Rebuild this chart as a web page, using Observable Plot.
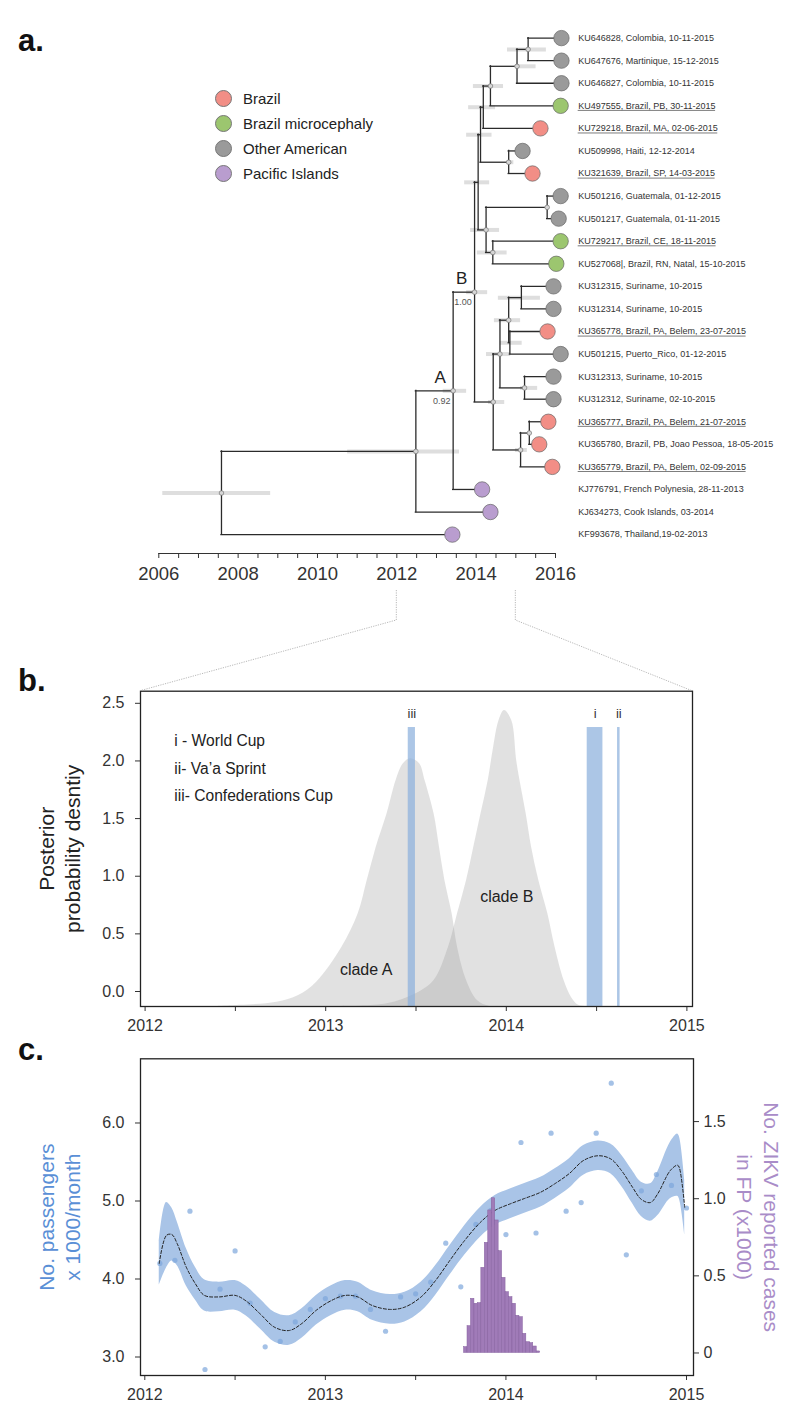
<!DOCTYPE html>
<html><head><meta charset="utf-8">
<script src="https://cdn.jsdelivr.net/npm/d3@7"></script>
<script src="https://cdn.jsdelivr.net/npm/@observablehq/plot@0.6"></script>
<style>
body{margin:0;background:#fff;}
#wrap{position:relative;width:800px;height:1427px;overflow:hidden;font-family:"Liberation Sans",Arial,Helvetica,sans-serif;background:#fff;}
.panel{position:absolute;left:0;}
.tag{position:absolute;left:18px;font-weight:bold;font-size:31px;color:#111;line-height:1;}
.legend{position:absolute;left:215px;top:85.4px;font-size:15px;color:#222;}
.legend div{height:25.3px;display:flex;align-items:center;}
.legend span.c{display:inline-block;width:15px;height:15px;border-radius:50%;border:1px solid #777;margin-right:11px;}
</style></head><body><div id="wrap"></div>
<script>
const FONT = '"Liberation Sans", Arial, Helvetica, sans-serif';

// ---------------- Panel a: tree ----------------
const groupNames = ["Brazil", "Brazil microcephaly", "Other American", "Pacific Islands"];
const groupColors = ["#f28e86", "#9cc66f", "#9a9a9a", "#b99dcf"];

const tipLabels = [
  "KU646828, Colombia, 10-11-2015",
  "KU647676, Martinique, 15-12-2015",
  "KU646827, Colombia, 10-11-2015",
  "KU497555, Brazil, PB, 30-11-2015",
  "KU729218, Brazil, MA, 02-06-2015",
  "KU509998, Haiti, 12-12-2014",
  "KU321639, Brazil, SP, 14-03-2015",
  "KU501216, Guatemala, 01-12-2015",
  "KU501217, Guatemala, 01-11-2015",
  "KU729217, Brazil, CE, 18-11-2015",
  "KU527068|, Brazil, RN, Natal, 15-10-2015",
  "KU312315, Suriname, 10-2015",
  "KU312314, Suriname, 10-2015",
  "KU365778, Brazil, PA, Belem, 23-07-2015",
  "KU501215, Puerto_Rico, 01-12-2015",
  "KU312313, Suriname, 10-2015",
  "KU312312, Suriname, 02-10-2015",
  "KU365777, Brazil, PA, Belem, 21-07-2015",
  "KU365780, Brazil, PB, Joao Pessoa, 18-05-2015",
  "KU365779, Brazil, PA, Belem, 02-09-2015",
  "KJ776791, French Polynesia, 28-11-2013",
  "KJ634273, Cook Islands, 03-2014",
  "KF993678, Thailand,19-02-2013"
];
const tipGroups = [
  "Other American","Other American","Other American","Brazil microcephaly","Brazil",
  "Other American","Brazil","Other American","Other American","Brazil microcephaly",
  "Brazil microcephaly","Other American","Other American","Brazil","Other American",
  "Other American","Other American","Brazil","Brazil","Brazil",
  "Pacific Islands","Pacific Islands","Pacific Islands"
];
const tipUnderlined = [0,0,0,1,1,0,1,0,0,1,0,0,0,1,0,0,0,1,0,1,0,0,0];
const tipTimes = [2016.15,2016.15,2016.15,2016.13,2015.62,2015.17,2015.42,2016.13,2016.08,2016.13,2016.02,
  2015.95,2015.95,2015.80,2016.13,2015.95,2015.95,2015.82,2015.59,2015.92,2014.15,2014.36,2013.40];
const tipParents = ["X1","X1","X2","X3","X4","X6","X6","X9","X9","X10","X10","L1a1","L1a1","L1a2","L1a2",
  "L1b","L1b","L2a","L2a","L2","A","N1","R"];

const nodeIds =     ["R","N1","A","B","X7","X5","X4","X3","X2","X1","X6","X8","X9","X10","L","L1","L1a","L1a1","L1a2","L1b","L2","L2a"];
const nodeParents = [null,"R","N1","A","B","X7","X5","X4","X3","X2","X5","X7","X8","X8","B","L","L1","L1a","L1a","L1","L","L2"];
const nodeTimes =   [2007.58,2012.48,2013.42,2013.96,2014.05,2014.11,2014.18,2014.36,2015.03,2015.31,2014.82,2014.25,2015.79,2014.42,2014.43,2014.60,2014.82,2015.14,2014.85,2015.22,2015.12,2015.34];
const nodeHpdLo =   [2006.10,2010.76,2013.17,2013.76,2013.71,2013.76,2013.81,2013.93,2014.99,2014.79,2014.77,2013.86,null,2014.03,2014.31,2014.26,2014.46,2014.56,2014.61,2015.12,2014.99,null];
const nodeHpdHi =   [2008.82,2013.58,2013.76,2014.29,2014.34,2014.40,2014.49,2014.69,2015.51,2015.77,2014.95,2014.59,null,2014.78,2014.72,2014.87,2015.12,2015.62,2015.16,2015.55,2015.29,null];
const nodeMarked =  [1,1,1,1,0,0,0,1,1,1,1,1,1,1,1,1,1,0,0,1,1,1];
const cladeNames = ["A","B"];
const cladeSupport = ["0.92","1.00"];
const treeTicks = d3.range(2006, 2016.001, 0.5);

// ---------------- Panel b: densities ----------------
const cladeATimes = [2012.40,2012.53,2012.73,2012.85,2012.95,2013.09,2013.18,2013.23,2013.28,2013.34,2013.39,2013.43,2013.47,2013.52,2013.55,2013.60,2013.63,2013.66,2013.70,2013.73,2013.78,2013.84,2013.91,2014.00];
const cladeADens  = [-0.13,-0.12,-0.093,-0.035,0.081,0.384,0.674,0.963,1.252,1.541,1.830,1.975,2.018,1.975,1.830,1.541,1.252,0.963,0.674,0.384,0.095,-0.078,-0.13,-0.13];
const cladeBTimes = [2013.05,2013.34,2013.50,2013.60,2013.68,2013.73,2013.78,2013.82,2013.86,2013.90,2013.93,2013.96,2013.99,2014.03,2014.06,2014.11,2014.14,2014.18,2014.23,2014.27,2014.32,2014.36,2014.40,2014.44];
const cladeBDens  = [-0.13,-0.107,-0.020,0.095,0.384,0.674,0.963,1.252,1.541,1.830,2.119,2.350,2.437,2.350,1.975,1.541,1.252,0.963,0.674,0.384,0.095,-0.049,-0.12,-0.13];
const eventLabels = ["iii","i","ii"];
const eventStart  = [2013.457, 2014.448, 2014.616];
const eventEnd    = [2013.497, 2014.535, 2014.630];
const eventLegend = ["i - World Cup", "ii- Va\u2019a Sprint", "iii- Confederations Cup"];
const densTicks = [0, 0.5, 1, 1.5, 2, 2.5];

// ---------------- Panel c: passengers & cases ----------------
const curveTimes = [2012.08,2012.12,2012.15,2012.18,2012.23,2012.28,2012.33,2012.41,2012.50,2012.56,2012.64,2012.72,2012.80,2012.87,2012.95,2013.03,2013.11,2013.18,2013.26,2013.36,2013.44,2013.53,2013.61,2013.69,2013.77,2013.86,2013.94,2014.02,2014.10,2014.19,2014.27,2014.35,2014.43,2014.51,2014.58,2014.64,2014.70,2014.75,2014.80,2014.84,2014.91,2014.95,2014.96,2014.99];
const curveMid   = [4.20,4.56,4.57,4.45,4.15,3.94,3.79,3.77,3.79,3.72,3.55,3.38,3.34,3.43,3.60,3.72,3.79,3.77,3.66,3.61,3.64,3.77,3.98,4.24,4.49,4.73,4.88,4.96,5.03,5.11,5.22,5.35,5.52,5.58,5.54,5.39,5.18,5.02,4.98,5.09,5.39,5.46,5.43,4.92];
const curveHalf  = [0.28,0.42,0.34,0.28,0.24,0.21,0.20,0.19,0.19,0.19,0.19,0.19,0.19,0.19,0.19,0.19,0.19,0.19,0.19,0.19,0.19,0.19,0.19,0.19,0.19,0.19,0.19,0.19,0.19,0.19,0.19,0.19,0.19,0.19,0.19,0.20,0.21,0.22,0.24,0.28,0.36,0.40,0.40,0.35];
const passengerMonthly = [4.20,4.24,4.87,2.84,3.87,4.36,3.69,3.13,3.20,3.45,3.61,3.75,3.78,3.78,3.61,3.33,3.77,3.81,3.96,4.46,3.90,4.70,4.88,4.57,5.75,4.59,5.87,4.87,4.98,5.87,6.51,4.31,5.13,5.34,5.20,4.91];
const passengerStartYear = 2012; // first month = Feb 2012
const casesWeekly = [0.038,0.174,0.351,0.319,0.323,0.552,0.714,0.924,1.003,0.859,0.660,0.487,0.394,0.362,0.319,0.241,0.232,0.124,0.070,0.064,0.042,0.010];
const casesStart = 2013.768;
const weekYears = 7 / 365.25;
const passengerTicks = [3, 4, 5, 6];
const caseTicks = [0, 0.5, 1, 1.5];
const yearTicks = d3.range(2012, 2015.001, 0.5);

// ---------------- build tree ----------------
const nodes = new Map();
nodeIds.forEach((id, i) => nodes.set(id, {id, t: nodeTimes[i], parent: nodeParents[i], lo: nodeHpdLo[i], hi: nodeHpdHi[i], marked: nodeMarked[i], children: [], tip: false}));
const tips = tipLabels.map((label, i) => ({id: "tip" + i, label, group: tipGroups[i], underlined: !!tipUnderlined[i], t: tipTimes[i], parent: tipParents[i], y: i, tip: true, children: []}));
tips.forEach(d => nodes.set(d.id, d));
for (const n of nodes.values()) if (n.parent) nodes.get(n.parent).children.push(n);
function layY(n) { if (n.tip) return n.y; n.y = d3.mean(n.children, layY); return n.y; }
layY(nodes.get("R"));
const allNodes = [...nodes.values()];
const internal = allNodes.filter(n => !n.tip);
const hEdges = allNodes.filter(n => n.parent).map(n => ({y: n.y, x1: nodes.get(n.parent).t, x2: n.t}));
const vEdges = internal.map(n => ({x: n.t, y1: d3.min(n.children, c => c.y), y2: d3.max(n.children, c => c.y)}));
const cladeNodes = cladeNames.map((c, i) => ({name: c, support: cladeSupport[i], t: nodes.get(c).t, y: nodes.get(c).y}));

const wrap = document.getElementById("wrap");
function place(el, top) { const d = document.createElement("div"); d.className = "panel"; d.style.top = top + "px"; d.appendChild(el); wrap.appendChild(d); return el; }

// underline extents measured in pixels, converted to years through the tree x scale
const treeXDomain = [2006, 2016], treeXRange = [158.3, 555];
const pxPerYear = (treeXRange[1] - treeXRange[0]) / (treeXDomain[1] - treeXDomain[0]);
const labelX = 2016.572;
const ctx = document.createElement("canvas").getContext("2d");
ctx.font = '9px "Liberation Sans", Arial, sans-serif';
const underlines = tips.filter(d => d.underlined).map(d => ({y: d.y, x1: labelX, x2: labelX + ctx.measureText(d.label).width / pxPerYear}));

const chartA = Plot.plot({
  width: 800, height: 600, marginTop: 0, marginBottom: 47, marginLeft: 158.3, marginRight: 245,
  style: {fontFamily: FONT, fontSize: "18.5px", color: "#333", background: "transparent"},
  x: {domain: treeXDomain, range: treeXRange, ticks: treeTicks, tickFormat: d => d % 2 === 0 ? String(d) : "", tickSize: 5, tickPadding: 8, line: true, label: null},
  y: {domain: [0, 22], range: [37.6, 534.1], axis: null},
  color: {domain: groupNames, range: groupColors},
  marks: [
    Plot.ruleY(internal.filter(n => n.lo != null), {y: "y", x1: "lo", x2: "hi", stroke: "#dedede", strokeWidth: 4}),
    Plot.ruleY(hEdges, {y: "y", x1: "x1", x2: "x2", stroke: "#2b2b2b", strokeWidth: 1.3, strokeLinecap: "square"}),
    Plot.ruleX(vEdges, {x: "x", y1: "y1", y2: "y2", stroke: "#2b2b2b", strokeWidth: 1.3, strokeLinecap: "square"}),
    Plot.dot(internal.filter(n => n.marked), {x: "t", y: "y", r: 2.3, fill: "#d6d6d6", stroke: "#777", strokeWidth: 0.7}),
    Plot.dot(tips, {x: "t", y: "y", r: 7.7, fill: "group", stroke: "#666", strokeWidth: 0.7}),
    Plot.text(tips, {x: labelX, y: "y", text: "label", textAnchor: "start", fontSize: 9, fill: "#333"}),
    Plot.ruleY(underlines, {y: "y", x1: "x1", x2: "x2", dy: 4.6, stroke: "#444", strokeWidth: 0.7}),
    Plot.text(cladeNodes, {x: "t", y: "y", text: "name", dx: -13, dy: -13.5, fontSize: 17, fill: "#222"}),
    Plot.text(cladeNodes, {x: "t", y: "y", text: "support", dx: -11.5, dy: 10, fontSize: 9, fill: "#555"})
  ]
});
place(chartA, 0);

// legend
const leg = document.createElement("div");
leg.className = "legend";
groupNames.forEach((g, i) => {
  const row = document.createElement("div");
  const c = document.createElement("span"); c.className = "c"; c.style.background = groupColors[i];
  row.appendChild(c); row.appendChild(document.createTextNode(g));
  leg.appendChild(row);
});
wrap.appendChild(leg);

// ---------------- Panel b ----------------
const TOP_B = 640;
const yMinB = -0.13, yMaxB = 2.605, barTop = 2.29;
const cladeA = cladeATimes.map((t, i) => ({t, d: cladeADens[i]}));
const cladeB = cladeBTimes.map((t, i) => ({t, d: cladeBDens[i]}));
const events = eventLabels.map((l, i) => ({label: l, start: eventStart[i], end: eventEnd[i]}));
const chartB = Plot.plot({
  width: 800, height: 410, marginTop: 50.7, marginBottom: 44, marginLeft: 140, marginRight: 108,
  style: {fontFamily: FONT, fontSize: "16px", color: "#333", background: "transparent"},
  x: {domain: [2012, 2015], range: [144.6, 686.4], ticks: yearTicks, tickFormat: d => Number.isInteger(d) ? String(d) : "", tickSize: 5, tickPadding: 8, label: null},
  y: {domain: [yMinB, yMaxB], ticks: densTicks, tickFormat: d => d.toFixed(1), tickSize: 5, tickPadding: 11, label: null},
  marks: [
    Plot.areaY(cladeA, {x: "t", y1: yMinB, y2: "d", fill: "#9b9b9b", fillOpacity: 0.3, curve: "catmull-rom"}),
    Plot.areaY(cladeB, {x: "t", y1: yMinB, y2: "d", fill: "#9b9b9b", fillOpacity: 0.3, curve: "catmull-rom"}),
    Plot.rect(events, {x1: "start", x2: "end", y1: yMinB, y2: barTop, fill: "#8cb0dd", fillOpacity: 0.72}),
    Plot.text(events, {x: d => (d.start + d.end) / 2, y: barTop, text: "label", dy: -14, fontSize: 13, fill: "#333"}),
    Plot.text([eventLegend.join("\n")], {text: d => d, frameAnchor: "top-left", dx: 33.8, dy: 35.5, lineAnchor: "top", textAnchor: "start", lineHeight: 1.76, fontSize: 15.6, fill: "#222"}),
    Plot.text(["clade A"], {text: d => d, x: 2013.224, y: 0.19, fontSize: 16, fill: "#222"}),
    Plot.text(["clade B"], {text: d => d, x: 2014.003, y: 0.82, fontSize: 16, fill: "#222"}),
    Plot.text(["Posterior\nprobability desntiy"], {text: d => d, frameAnchor: "left", textAnchor: "middle", dx: -82, rotate: -90, fontSize: 21, lineHeight: 1.27, fill: "#222"}),
    Plot.frame({stroke: "#222", strokeWidth: 1.3})
  ]
});
place(chartB, TOP_B);

// ---------------- Panel c ----------------
const TOP_C = 1030;
const curve = curveTimes.map((t, i) => ({t, mid: curveMid[i], lo: curveMid[i] - curveHalf[i], hi: curveMid[i] + curveHalf[i]}));
const monthly = passengerMonthly.map((v, i) => ({t: passengerStartYear + (i + 1) / 12, v}));
const weekly = casesWeekly.map((c, i) => ({x1: casesStart + i * weekYears, x2: casesStart + (i + 1) * weekYears, c}));
const dimsC = {width: 800, height: 397, marginTop: 28.3, marginBottom: 52, marginLeft: 140, marginRight: 107};
const chartC = Plot.plot({
  ...dimsC,
  style: {fontFamily: FONT, fontSize: "16px", color: "#333", background: "transparent"},
  x: {domain: [2012, 2015], range: [144.3, 686], ticks: yearTicks, tickFormat: d => Number.isInteger(d) ? String(d) : "", tickSize: 5, tickPadding: 8, label: null},
  y: {domain: [2.763, 6.823], ticks: passengerTicks, tickFormat: d => d.toFixed(1), tickSize: 5, tickPadding: 11, label: null},
  marks: [
    Plot.areaY(curve, {x: "t", y1: "lo", y2: "hi", fill: "#a9c4e7", curve: "catmull-rom"}),
    Plot.dot(monthly, {x: "t", y: "v", r: 2.6, fill: "#7ea6dc", fillOpacity: 0.7}),
    Plot.line(curve, {x: "t", y: "mid", stroke: "#222", strokeWidth: 1, strokeDasharray: "3,2", curve: "catmull-rom"}),
    Plot.text(["No. passengers\nx 1000/month"], {text: d => d, frameAnchor: "left", textAnchor: "middle", dx: -82, rotate: -90, fontSize: 21, lineHeight: 1.27, fill: "#5a8fd6"}),
    Plot.frame({stroke: "#222", strokeWidth: 1.3})
  ]
});
place(chartC, TOP_C);
const chartC2 = Plot.plot({
  ...dimsC,
  style: {fontFamily: FONT, fontSize: "16px", color: "#333", background: "transparent"},
  x: {domain: [2012, 2015], range: [144.3, 686], axis: null},
  y: {domain: [-0.146, 1.907], axis: "right", ticks: caseTicks, tickFormat: d => d === 0 ? "0" : d.toFixed(1), tickSize: 5, tickPadding: 5, label: null},
  marks: [
    Plot.rect(weekly, {x1: "x1", x2: "x2", y1: 0, y2: "c", fill: "#a07bb8", stroke: "#86609f", strokeWidth: 0.5}),
    Plot.text(["No. ZIKV reported cases\nin FP (x1000)"], {text: d => d, frameAnchor: "right", textAnchor: "middle", dx: 65.4, rotate: 90, fontSize: 21, lineHeight: 1.27, fill: "#a98cc8"})
  ]
});
place(chartC2, TOP_C);

// ---------------- connectors & tags ----------------
const sxA = chartA.scale("x");
const fx = d3.scaleLinear(sxA.domain, sxA.range);
const ov = d3.select(wrap).append("svg").attr("width", 800).attr("height", 1427)
  .style("position", "absolute").style("left", 0).style("top", 0).style("pointer-events", "none");
const bTop = TOP_B + 50.7;
[[2012, 140], [2015, 692]].forEach(([yr, xb]) => {
  ov.append("path").attr("d", `M${fx(yr)},590V620L${xb},${bTop}`)
    .attr("fill", "none").attr("stroke", "#b0b0b0").attr("stroke-width", 0.9).attr("stroke-dasharray", "1.2,1.2");
});
[["a.", 25], ["b.", 665], ["c.", 1034]].forEach(([t, top]) => {
  const d = document.createElement("div"); d.className = "tag"; d.style.top = top + "px"; d.textContent = t; wrap.appendChild(d);
});
</script></body></html>
